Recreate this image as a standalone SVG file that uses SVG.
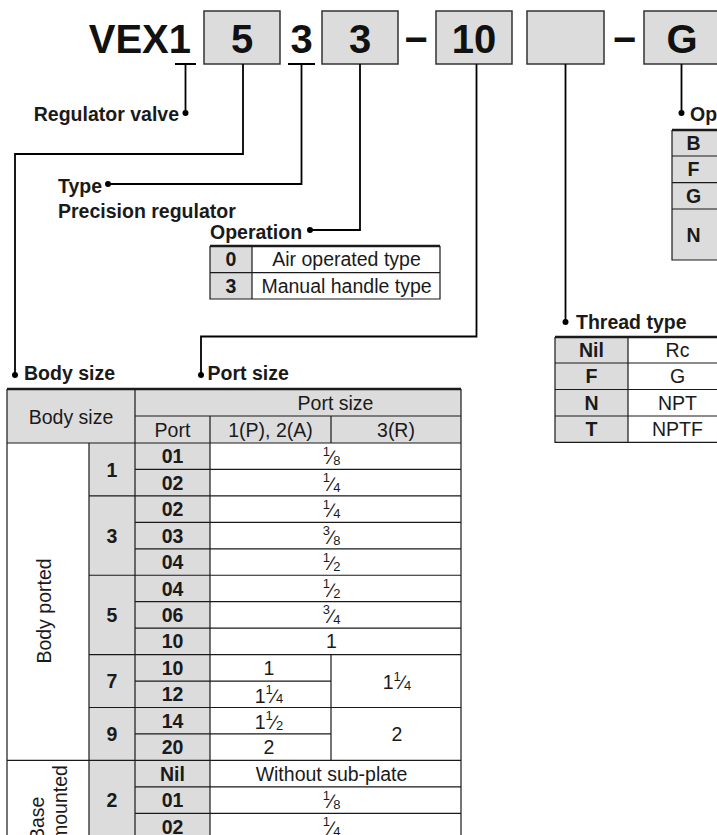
<svg xmlns="http://www.w3.org/2000/svg" width="717" height="835" viewBox="0 0 717 835">
<style>
.t{font-family:"Liberation Sans",Arial,Helvetica,sans-serif;font-size:19.5px;fill:#1a1a1a}
.b{font-weight:bold}
.c{text-anchor:middle}
.e{text-anchor:end}
.big{font-family:"Liberation Sans",Arial,Helvetica,sans-serif;font-size:40px;font-weight:bold;fill:#111;text-anchor:middle}
.n{font-size:13px}
.g{fill:#dcdcdc}
.w{fill:#fff}
.ln{stroke:#1a1a1a;stroke-width:1.2;fill:none}
.thk{stroke:#1a1a1a;stroke-width:2.4;fill:none}
.lead{stroke:#000;stroke-width:1.8;fill:none}
.box{fill:#dcdcdc;stroke:#333;stroke-width:1.5}
.dot{fill:#000}
</style>

<g id="code">
  <g id="prefix"><text class="big" x="191" y="53" style="text-anchor:end">VEX1</text></g>
  <g id="box-body"><rect class="box" x="204" y="11" width="76" height="53"/><text class="big" x="242" y="53">5</text></g>
  <g id="type-digit"><text class="big" x="301.5" y="53">3</text></g>
  <g id="box-operation"><rect class="box" x="322" y="11" width="76" height="53"/><text class="big" x="360" y="53">3</text></g>
  <g id="dash1"><text class="big" x="416" y="53">−</text></g>
  <g id="box-port"><rect class="box" x="436" y="11" width="76" height="53"/><text class="big" x="474" y="53">10</text></g>
  <g id="box-thread"><rect class="box" x="527" y="11" width="77" height="53"/></g>
  <g id="dash2"><text class="big" x="624.5" y="53">−</text></g>
  <g id="box-option"><rect class="box" x="644" y="11" width="76" height="53"/><text class="big" x="682" y="53">G</text></g>
</g>

<g id="connectors">
  <path class="lead" d="M175,64 H196 M288,64 H315"/>
  <path class="lead" d="M185.5,64 V113"/>
  <path class="lead" d="M243,64 V154 H15 V375"/>
  <path class="lead" d="M301.5,64 V184 H108"/>
  <path class="lead" d="M360,64 V230 H310"/>
  <path class="lead" d="M476.5,64 V336.5 H201 V375"/>
  <path class="lead" d="M565.5,64 V322"/>
  <path class="lead" d="M681.5,64 V113"/>
  <circle class="dot" cx="185.5" cy="113" r="3"/>
  <circle class="dot" cx="15" cy="375" r="3"/>
  <circle class="dot" cx="108" cy="184" r="3"/>
  <circle class="dot" cx="310" cy="230" r="3"/>
  <circle class="dot" cx="201" cy="375" r="3"/>
  <circle class="dot" cx="565.5" cy="322" r="3"/>
  <circle class="dot" cx="681.5" cy="113" r="3"/>
</g>

<g id="regulator-valve"><text class="t b e" x="179" y="121">Regulator valve</text></g>

<g id="type">
  <text class="t b" x="58" y="192.5">Type</text>
  <text class="t b" x="58" y="217.5">Precision regulator</text>
</g>

<g id="operation">
  <text class="t b" x="210" y="239">Operation</text>
  <rect class="g" x="210" y="246" width="42" height="53"/>
  <rect class="w" x="252" y="246" width="188" height="53"/>
  <path class="ln" d="M210,246 V299 H440 V246 M210,272.7 H440 M252,246 V299"/>
  <path class="thk" d="M210,246 H440"/>
  <text class="t b c" x="231" y="266.3">0</text>
  <text class="t c" x="346.5" y="266.3">Air operated type</text>
  <text class="t b c" x="231" y="292.8">3</text>
  <text class="t c" x="346.5" y="292.8">Manual handle type</text>
</g>

<g id="option">
  <text class="t b" x="690" y="121">Op</text>
  <rect class="g" x="672" y="130" width="46" height="130"/>
  <path class="ln" d="M672,130 V260 H718 M672,156 H718 M672,182.7 H718 M672,209 H718"/>
  <path class="thk" d="M672,130 H718"/>
  <text class="t b c" x="693.5" y="150">B</text>
  <text class="t b c" x="693.5" y="176.3">F</text>
  <text class="t b c" x="693.5" y="202.8">G</text>
  <text class="t b c" x="693.5" y="241.5">N</text>
</g>

<g id="thread-type">
  <text class="t b" x="576" y="329">Thread type</text>
  <rect class="g" x="555" y="337" width="73" height="105.3"/>
  <rect class="w" x="628" y="337" width="100" height="105.3"/>
  <path class="ln" d="M555,337 V442.3 H728 M555,363 H728 M555,389.5 H728 M555,416 H728 M628,337 V442.3"/>
  <path class="thk" d="M555,337 H728"/>
  <text class="t b c" x="591.5" y="357">Nil</text>
  <text class="t c" x="677.5" y="357">Rc</text>
  <text class="t b c" x="591.5" y="383.3">F</text>
  <text class="t c" x="677.5" y="383.3">G</text>
  <text class="t b c" x="591.5" y="409.8">N</text>
  <text class="t c" x="677.5" y="409.8">NPT</text>
  <text class="t b c" x="591.5" y="436.2">T</text>
  <text class="t c" x="677.5" y="436.2">NPTF</text>
</g>

<g id="body-size-label"><text class="t b" x="24" y="380">Body size</text></g>
<g id="port-size-label"><text class="t b" x="207.5" y="380">Port size</text></g>

<g id="port-table">
  <rect class="g" x="7" y="389" width="454" height="54"/>
  <rect class="w" x="7" y="443" width="82" height="397"/>
  <rect class="g" x="89" y="443" width="121" height="397"/>
  <rect class="w" x="210" y="443" width="251" height="397"/>
  <path class="ln" d="M7,389 V840 M89,443 V840 M135,389 V840 M210,416 V840 M461,389 V840 M331,416 V443 M331,654.6 V760.4
    M135,416 H461 M7,443 H461
    M135,469.45 H461 M89,495.9 H461 M135,522.35 H461 M135,548.8 H461 M89,575.25 H461 M135,601.7 H461 M135,628.15 H461
    M89,654.6 H461 M135,681.05 H331 M89,707.5 H461 M135,733.95 H331 M7,760.4 H461 M135,786.85 H461 M135,813.3 H461"/>
  <path class="thk" d="M7,389 H461"/>

  <text class="t c" x="71" y="424">Body size</text>
  <text class="t c" x="335.5" y="409.5">Port size</text>
  <text class="t c" x="172.5" y="436.5">Port</text>
  <text class="t c" x="270.5" y="436.5">1(P), 2(A)</text>
  <text class="t c" x="396" y="436.5">3(R)</text>

  <text class="t" transform="translate(50.5,611) rotate(-90)" text-anchor="middle">Body ported</text>
  <text class="t" transform="translate(43.5,841) rotate(-90)">Base</text>
  <text class="t" transform="translate(67,841) rotate(-90)">mounted</text>

  <text class="t b c" x="112" y="476.5">1</text>
  <text class="t b c" x="112" y="542.6">3</text>
  <text class="t b c" x="112" y="622">5</text>
  <text class="t b c" x="112" y="688">7</text>
  <text class="t b c" x="112" y="741">9</text>
  <text class="t b c" x="112" y="807">2</text>

  <text class="t b c" x="172.5" y="463.2">01</text>
  <text class="t b c" x="172.5" y="489.7">02</text>
  <text class="t b c" x="172.5" y="516.1">02</text>
  <text class="t b c" x="172.5" y="542.6">03</text>
  <text class="t b c" x="172.5" y="569">04</text>
  <text class="t b c" x="172.5" y="595.5">04</text>
  <text class="t b c" x="172.5" y="621.9">06</text>
  <text class="t b c" x="172.5" y="648.4">10</text>
  <text class="t b c" x="172.5" y="674.8">10</text>
  <text class="t b c" x="172.5" y="701.3">12</text>
  <text class="t b c" x="172.5" y="727.7">14</text>
  <text class="t b c" x="172.5" y="754.2">20</text>
  <text class="t b c" x="172.5" y="780.6">Nil</text>
  <text class="t b c" x="172.5" y="807.1">01</text>
  <text class="t b c" x="172.5" y="833.5">02</text>

  <text class="t c" x="331.5" y="464.4"><tspan class="n" dy="-8.7">1</tspan><tspan dy="8.7">∕</tspan><tspan class="n" dy="0.8">8</tspan></text>
  <text class="t c" x="331.5" y="490.9"><tspan class="n" dy="-8.7">1</tspan><tspan dy="8.7">∕</tspan><tspan class="n" dy="0.8">4</tspan></text>
  <text class="t c" x="331.5" y="517.3"><tspan class="n" dy="-8.7">1</tspan><tspan dy="8.7">∕</tspan><tspan class="n" dy="0.8">4</tspan></text>
  <text class="t c" x="331.5" y="543.8"><tspan class="n" dy="-8.7">3</tspan><tspan dy="8.7">∕</tspan><tspan class="n" dy="0.8">8</tspan></text>
  <text class="t c" x="331.5" y="570.2"><tspan class="n" dy="-8.7">1</tspan><tspan dy="8.7">∕</tspan><tspan class="n" dy="0.8">2</tspan></text>
  <text class="t c" x="331.5" y="596.7"><tspan class="n" dy="-8.7">1</tspan><tspan dy="8.7">∕</tspan><tspan class="n" dy="0.8">2</tspan></text>
  <text class="t c" x="331.5" y="623.1"><tspan class="n" dy="-8.7">3</tspan><tspan dy="8.7">∕</tspan><tspan class="n" dy="0.8">4</tspan></text>
  <text class="t c" x="331.5" y="648.4">1</text>

  <text class="t c" x="269" y="674.8">1</text>
  <text class="t c" x="269" y="702.5">1<tspan class="n" dy="-8.7">1</tspan><tspan dy="8.7">∕</tspan><tspan class="n" dy="0.8">4</tspan></text>
  <text class="t c" x="397" y="689.3">1<tspan class="n" dy="-8.7">1</tspan><tspan dy="8.7">∕</tspan><tspan class="n" dy="0.8">4</tspan></text>
  <text class="t c" x="269" y="728.9">1<tspan class="n" dy="-8.7">1</tspan><tspan dy="8.7">∕</tspan><tspan class="n" dy="0.8">2</tspan></text>
  <text class="t c" x="269" y="754.2">2</text>
  <text class="t c" x="397" y="741.2">2</text>

  <text class="t c" x="331.5" y="780.6">Without sub-plate</text>
  <text class="t c" x="331.5" y="808.3"><tspan class="n" dy="-8.7">1</tspan><tspan dy="8.7">∕</tspan><tspan class="n" dy="0.8">8</tspan></text>
  <text class="t c" x="331.5" y="834.7"><tspan class="n" dy="-8.7">1</tspan><tspan dy="8.7">∕</tspan><tspan class="n" dy="0.8">4</tspan></text>
</g>
</svg>
